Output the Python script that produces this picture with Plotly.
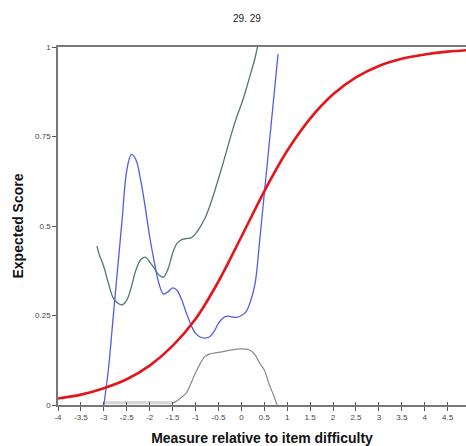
"""Expected score curve chart (29. 29)."""

import plotly.graph_objects as go

# model curve (red)
model_x = [-4.0, -3.5, -3.0, -2.5, -2.0, -1.5, -1.0, -0.5, 0.0, 0.5, 1.0, 1.5, 2.0, 2.5, 3.0, 3.5, 4.0, 4.5, 4.9]
model_y = [0.018, 0.029, 0.047, 0.072, 0.11, 0.165, 0.24, 0.345, 0.47, 0.597, 0.71, 0.8, 0.868, 0.915, 0.947, 0.967, 0.979, 0.987, 0.991]

# empirical curve (blue)
blue_x = [-3.0, -2.9, -2.8, -2.7, -2.6, -2.5, -2.4, -2.3, -2.2, -2.1, -2.0, -1.9, -1.8, -1.7, -1.6, -1.5,
          -1.4, -1.3, -1.2, -1.1, -1.0, -0.9, -0.8, -0.7, -0.6, -0.5, -0.4, -0.3, -0.2, -0.1, 0.0,
          0.1, 0.2, 0.3, 0.4, 0.5, 0.6, 0.7, 0.8]
blue_y = [0.0, 0.1, 0.24, 0.38, 0.52, 0.655, 0.7, 0.685, 0.63, 0.555, 0.47, 0.4, 0.34, 0.31, 0.316, 0.327,
          0.32, 0.293, 0.257, 0.224, 0.2, 0.19, 0.187, 0.19, 0.204, 0.228, 0.243, 0.248, 0.246, 0.245, 0.25,
          0.26, 0.29, 0.34, 0.46, 0.59, 0.72, 0.85, 0.98]

# confidence curve (green)
green_x = [-3.15, -3.1, -3.0, -2.9, -2.8, -2.7, -2.6, -2.5, -2.4, -2.3, -2.2, -2.1, -2.0, -1.9, -1.8, -1.7,
           -1.6, -1.5, -1.4, -1.3, -1.2, -1.1, -1.0, -0.9, -0.8, -0.7, -0.6, -0.5, -0.4, -0.3, -0.2,
           -0.1, 0.0, 0.1, 0.2, 0.3, 0.35]
green_y = [0.444, 0.42, 0.386, 0.34, 0.3, 0.285, 0.28, 0.293, 0.33, 0.377, 0.405, 0.413, 0.4, 0.382, 0.363, 0.357,
           0.38, 0.424, 0.452, 0.462, 0.465, 0.467, 0.478, 0.497, 0.52, 0.552, 0.59, 0.632, 0.675, 0.72, 0.765,
           0.805, 0.84, 0.88, 0.925, 0.97, 1.0]

# frequency curve (gray)
gray_x = [-1.5, -1.4, -1.3, -1.2, -1.1, -1.0, -0.9, -0.8, -0.7, -0.6, -0.5, -0.4, -0.3, -0.2, -0.1, 0.0,
          0.1, 0.2, 0.3, 0.4, 0.5, 0.6, 0.7, 0.78]
gray_y = [0.005, 0.012, 0.022, 0.034, 0.06, 0.09, 0.115, 0.135, 0.142, 0.145, 0.147, 0.149, 0.152, 0.154, 0.156, 0.157,
          0.156, 0.152, 0.14, 0.117, 0.098, 0.06, 0.028, 0.0]
band_x = [-3.0, -2.5, -2.0, -1.5]
band_y = [0.006, 0.007, 0.007, 0.006]

x_ticks = [-4, -3.5, -3, -2.5, -2, -1.5, -1, -0.5, 0, 0.5, 1, 1.5, 2, 2.5, 3, 3.5, 4, 4.5]
x_labels = ["-4", "-3.5", "-3", "-2.5", "-2", "-1.5", "-1", "-0.5", "0", "0.5", "1", "1.5", "2", "2.5", "3", "3.5", "4", "4.5"]
y_ticks = [0, 0.25, 0.5, 0.75, 1]
y_labels = ["0", "0.25", "0.5", "0.75", "1"]

fig = go.Figure()
fig.add_trace(go.Scatter(x=band_x, y=band_y, mode="lines", line=dict(color="#d6d6d6", width=3), hoverinfo="skip"))
fig.add_trace(go.Scatter(x=gray_x, y=gray_y, mode="lines", line=dict(color="#8a8a8a", width=1.2, shape="spline")))
fig.add_trace(go.Scatter(x=green_x, y=green_y, mode="lines", line=dict(color="#4f7a66", width=1.3, shape="spline")))
fig.add_trace(go.Scatter(x=blue_x, y=blue_y, mode="lines", line=dict(color="#4f5fe0", width=1.3, shape="spline")))
fig.add_trace(go.Scatter(x=model_x, y=model_y, mode="lines", line=dict(color="#e3161c", width=2.6, shape="spline")))

tick_font = dict(family="Arial, Liberation Sans, sans-serif", size=8, color="#444444")
title_font = dict(family="Arial, Liberation Sans, sans-serif", size=14, color="#111111")

fig.update_layout(
    width=466, height=446,
    margin=dict(t=47, b=41, l=58, r=0),
    paper_bgcolor="white", plot_bgcolor="white",
    showlegend=False,
    title=dict(text="29. 29", x=0.53, xanchor="center", y=0.959, yanchor="middle",
               font=dict(family="Arial, Liberation Sans, sans-serif", size=10, color="#222222")),
    xaxis=dict(range=[-4, 4.9], tickvals=x_ticks, ticktext=x_labels, tickfont=tick_font, automargin=False,
               showgrid=False, zeroline=False, showline=True, linecolor="#777777", linewidth=1.5,
               mirror=True, ticks="outside", ticklen=4, tickcolor="#555555",
               title=dict(text="<b>Measure relative to item difficulty</b>", font=title_font, standoff=12)),
    yaxis=dict(range=[0, 1], tickvals=y_ticks, ticktext=y_labels, tickfont=tick_font, automargin=False,
               showgrid=False, zeroline=False, showline=True, linecolor="#777777", linewidth=1.5,
               ticks="outside", ticklen=4, tickcolor="#555555",
               title=dict(text="<b>Expected Score</b>", font=title_font, standoff=8)),
    xaxis2=dict(overlaying="x", matches="x", range=[-4, 4.9], tickvals=x_ticks, showticklabels=False,
                ticks="inside", ticklen=3, tickcolor="#555555", showgrid=False, zeroline=False,
                showline=False, side="bottom", automargin=False),
)
# inside ticks on the x axis, so they cross the line as in the reference
fig.add_trace(go.Scatter(x=[-4], y=[0], xaxis="x2", mode="markers", marker=dict(opacity=0), hoverinfo="skip"))

# drop the page's default body margin so the figure sits at the window's corner
fig.write_html("out.html", config={"displayModeBar": False},
               post_script="document.body.style.margin='0';")
